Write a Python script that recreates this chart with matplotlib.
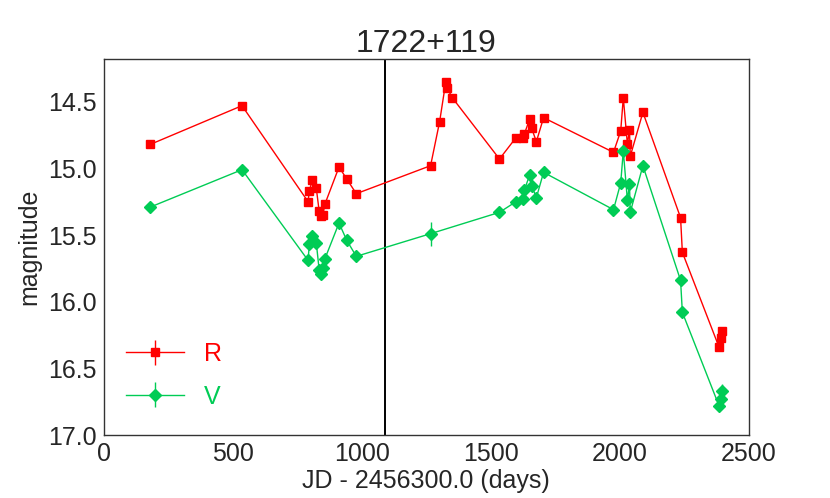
import numpy as np
import matplotlib
matplotlib.use("Agg")
import matplotlib.pyplot as plt

plt.rcParams['font.family'] = ['Liberation Sans', 'DejaVu Sans']
plt.rcParams['text.color'] = '#262626'
plt.rcParams['axes.labelcolor'] = '#262626'
plt.rcParams['xtick.color'] = '#262626'
plt.rcParams['ytick.color'] = '#262626'

# R band
t_R = [181, 536, 792, 797, 808, 824, 835, 842, 849, 857, 912, 942, 979,
       1267, 1302, 1326, 1332, 1351, 1534, 1598, 1624, 1631, 1651, 1659,
       1677, 1705, 1976, 2004, 2014, 2030, 2038, 2041, 2090, 2236, 2243,
       2385, 2392, 2396]
mag_R = [14.82, 14.53, 15.25, 15.17, 15.09, 15.15, 15.32, 15.36, 15.35, 15.27,
         14.99, 15.08, 15.19, 14.98, 14.65, 14.35, 14.40, 14.47, 14.93, 14.77,
         14.77, 14.74, 14.63, 14.70, 14.80, 14.62, 14.88, 14.72, 14.47, 14.82,
         14.71, 14.91, 14.58, 15.37, 15.63, 16.34, 16.27, 16.22]
err_R = [0.01] * len(t_R)

# V band
t_V = [181, 536, 792, 797, 808, 824, 835, 842, 849, 857, 912, 942, 979,
       1267, 1534, 1598, 1624, 1631, 1651, 1659, 1677, 1705, 1976, 2004,
       2014, 2030, 2038, 2041, 2090, 2236, 2243, 2385, 2392, 2396]
mag_V = [15.29, 15.01, 15.69, 15.57, 15.51, 15.56, 15.76, 15.79, 15.75, 15.68,
         15.41, 15.54, 15.66, 15.49, 15.33, 15.25, 15.23, 15.16, 15.05, 15.13,
         15.22, 15.03, 15.31, 15.11, 14.87, 15.24, 15.12, 15.33, 14.98, 15.84,
         16.08, 16.78, 16.73, 16.67]
err_V = [0.02] * len(t_V)
err_V[13] = 0.09   # the 1267 point
err_V[-1] = 0.05

t_mark = 1089   # vertical marker
col_R = '#ff0000'
col_V = '#00cc55'

fig = plt.figure(figsize=(8.3, 4.98), dpi=100)
ax = fig.add_axes([0.125, 0.1265, 0.777, 0.755])

ax.errorbar(t_R, mag_R, yerr=err_R, color=col_R, marker='s', ms=6,
            lw=1, elinewidth=1, label='R')
ax.errorbar(t_V, mag_V, yerr=err_V, color=col_V, marker='D', ms=6,
            lw=1, elinewidth=1, label='V')
ax.axvline(t_mark, color='black', lw=1.4)

ax.set_xlim(0, 2500)
ax.set_ylim(17.0, 14.18)
ax.set_xticks([0, 500, 1000, 1500, 2000, 2500])
ax.set_yticks([14.5, 15.0, 15.5, 16.0, 16.5, 17.0])
ax.tick_params(length=0, labelsize=18, pad=5)
for s in ax.spines.values():
    s.set_color('#333333')
    s.set_linewidth(1)

ax.set_xlabel('JD - 2456300.0 (days)', fontsize=18, labelpad=2)
ax.set_ylabel('magnitude', fontsize=18, labelpad=5)
ax.set_title('1722+119', fontsize=23, pad=5)

leg = ax.legend(loc='lower left', frameon=False, fontsize=18,
                bbox_to_anchor=(0.0, 0.01), handlelength=2.3,
                labelspacing=0.75)
for txt, c in zip(leg.get_texts(), [col_R, col_V]):
    txt.set_color(c)

fig.savefig('out.png', dpi=100)
